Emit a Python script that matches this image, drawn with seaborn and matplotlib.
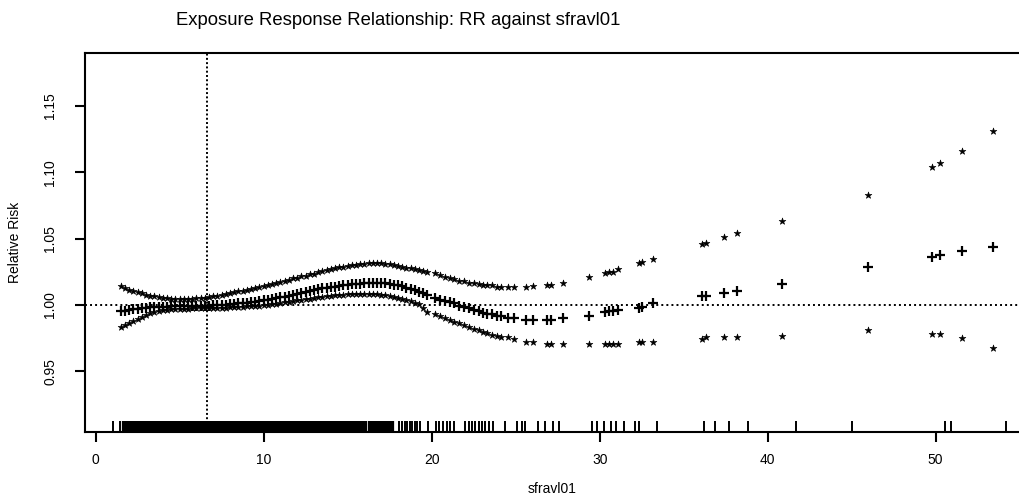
import matplotlib
matplotlib.use("Agg")
import matplotlib.pyplot as plt
import seaborn as sns
import pandas as pd
import numpy as np

# observation grid (exposure values) shared by the three series
sfravl01 = [
    1.50, 1.75, 2.00, 2.25, 2.50, 2.75, 3.00, 3.25, 3.50, 3.75,
    4.00, 4.25, 4.50, 4.75, 5.00, 5.25, 5.50, 5.75, 6.00, 6.25,
    6.50, 6.75, 7.00, 7.25, 7.50, 7.75, 8.00, 8.25, 8.50, 8.75,
    9.00, 9.25, 9.50, 9.75, 10.00, 10.25, 10.50, 10.75, 11.00, 11.25,
    11.50, 11.75, 12.00, 12.25, 12.50, 12.75, 13.00, 13.25, 13.50, 13.75,
    14.00, 14.25, 14.50, 14.75, 15.00, 15.25, 15.50, 15.75, 16.00, 16.25,
    16.50, 16.75, 17.00, 17.25, 17.50, 17.75, 18.00, 18.25, 18.50, 18.75,
    19.00, 19.25,
    19.50, 19.75, 20.20, 20.50, 20.80, 21.10, 21.30, 21.60, 21.90, 22.20,
    22.50, 22.80, 23.05, 23.30, 23.60, 23.90, 24.10, 24.55, 24.90, 25.60,
    26.05, 26.85, 27.10, 27.80, 29.35, 30.30, 30.55, 30.80, 31.10, 32.35,
    32.50, 33.15, 36.10, 36.30, 37.40, 38.15, 40.85, 45.95, 49.80, 50.25,
    51.55, 53.40,
]

rr_upper = [
    1.0140, 1.0124, 1.0111, 1.0102, 1.0094, 1.0087, 1.0078, 1.0070, 1.0064, 1.0058,
    1.0053, 1.0050, 1.0047, 1.0045, 1.0044, 1.0044, 1.0046, 1.0048, 1.0050, 1.0053,
    1.0055, 1.0059, 1.0064, 1.0070, 1.0076, 1.0082, 1.0089, 1.0095, 1.0101, 1.0107,
    1.0114, 1.0121, 1.0128, 1.0135, 1.0143, 1.0150, 1.0158, 1.0166, 1.0175, 1.0183,
    1.0191, 1.0199, 1.0206, 1.0214, 1.0221, 1.0229, 1.0236, 1.0244, 1.0253, 1.0262,
    1.0270, 1.0277, 1.0283, 1.0288, 1.0293, 1.0297, 1.0302, 1.0306, 1.0310, 1.0313,
    1.0315, 1.0315, 1.0314, 1.0310, 1.0305, 1.0299, 1.0293, 1.0287, 1.0281, 1.0275,
    1.0269, 1.0262,
    1.0252, 1.0246, 1.0239, 1.0228, 1.0213, 1.0202, 1.0193, 1.0178, 1.0178, 1.0168,
    1.0163, 1.0155, 1.0148, 1.0146, 1.0146, 1.0137, 1.0131, 1.0131, 1.0131, 1.0131,
    1.0144, 1.0146, 1.0146, 1.0166, 1.0208, 1.0237, 1.0249, 1.0251, 1.0269, 1.0312,
    1.0320, 1.0344, 1.0462, 1.0465, 1.0508, 1.0538, 1.0629, 1.0825, 1.1039, 1.1069,
    1.1157, 1.1308,
]

rr_est = [
    0.9951, 0.9957, 0.9963, 0.9967, 0.9971, 0.9975, 0.9979, 0.9982, 0.9984, 0.9985,
    0.9986, 0.9987, 0.9988, 0.9989, 0.9989, 0.9990, 0.9990, 0.9991, 0.9991, 0.9992,
    0.9993, 0.9994, 0.9996, 0.9998, 1.0000, 1.0002, 1.0005, 1.0008, 1.0011, 1.0014,
    1.0017, 1.0020, 1.0024, 1.0028, 1.0033, 1.0038, 1.0044, 1.0050, 1.0056, 1.0063,
    1.0069, 1.0075, 1.0081, 1.0088, 1.0096, 1.0103, 1.0111, 1.0118, 1.0124, 1.0129,
    1.0134, 1.0138, 1.0142, 1.0147, 1.0151, 1.0154, 1.0157, 1.0160, 1.0162, 1.0164,
    1.0165, 1.0165, 1.0164, 1.0162, 1.0158, 1.0153, 1.0146, 1.0139, 1.0130, 1.0121,
    1.0111, 1.0100,
    1.0088, 1.0075, 1.0052, 1.0040, 1.0030, 1.0018, 1.0012, 0.9994, 0.9982, 0.9975,
    0.9962, 0.9955, 0.9940, 0.9932, 0.9930, 0.9918, 0.9917, 0.9900, 0.9899, 0.9889,
    0.9887, 0.9887, 0.9887, 0.9899, 0.9917, 0.9950, 0.9955, 0.9957, 0.9962, 0.9980,
    0.9987, 1.0012, 1.0068, 1.0070, 1.0086, 1.0101, 1.0161, 1.0282, 1.0357, 1.0373,
    1.0403, 1.0433,
]

rr_lower = [
    0.9832, 0.9849, 0.9866, 0.9882, 0.9897, 0.9912, 0.9925, 0.9937, 0.9949, 0.9955,
    0.9960, 0.9965, 0.9968, 0.9969, 0.9970, 0.9971, 0.9972, 0.9973, 0.9973, 0.9974,
    0.9975, 0.9975, 0.9976, 0.9977, 0.9978, 0.9979, 0.9981, 0.9983, 0.9985, 0.9987,
    0.9989, 0.9991, 0.9993, 0.9995, 0.9997, 1.0000, 1.0004, 1.0008, 1.0013, 1.0018,
    1.0023, 1.0028, 1.0033, 1.0038, 1.0043, 1.0047, 1.0052, 1.0056, 1.0060, 1.0064,
    1.0068, 1.0071, 1.0074, 1.0077, 1.0079, 1.0081, 1.0082, 1.0083, 1.0083, 1.0083,
    1.0083, 1.0081, 1.0078, 1.0073, 1.0067, 1.0059, 1.0051, 1.0043, 1.0035, 1.0026,
    1.0016, 1.0006,
    0.9975, 0.9950, 0.9932, 0.9917, 0.9899, 0.9886, 0.9874, 0.9862, 0.9848, 0.9835,
    0.9818, 0.9808, 0.9799, 0.9786, 0.9774, 0.9763, 0.9756, 0.9756, 0.9743, 0.9723,
    0.9723, 0.9706, 0.9706, 0.9706, 0.9706, 0.9706, 0.9706, 0.9706, 0.9706, 0.9723,
    0.9723, 0.9723, 0.9741, 0.9756, 0.9756, 0.9756, 0.9768, 0.9814, 0.9784, 0.9784,
    0.9754, 0.9676,
]

# rug of observed exposures: dense block and isolated values
rug_block = [
    1.75, 2.00, 2.25, 2.50, 2.75, 3.00, 3.25, 3.50, 3.75, 4.00,
    4.25, 4.50, 4.75, 5.00, 5.25, 5.50, 5.75, 6.00, 6.25, 6.50,
    6.75, 7.00, 7.25, 7.50, 7.75, 8.00, 8.25, 8.50, 8.75, 9.00,
    9.25, 9.50, 9.75, 10.00, 10.25, 10.50, 10.75, 11.00, 11.25, 11.50,
    11.75, 12.00, 12.25, 12.50, 12.75, 13.00, 13.25, 13.50, 13.75, 14.00,
    14.25, 14.50, 14.75, 15.00, 15.25, 15.50, 15.75, 16.00, 16.40, 16.65,
    16.90, 17.15, 17.40, 17.60,
]
rug_single = [
    1.00, 1.45, 18.05, 18.25, 18.40, 18.55, 18.70, 18.85, 19.00, 19.15,
    19.30, 19.76, 20.25, 20.45, 20.70, 20.90, 21.10, 21.30, 22.00, 22.20,
    22.40, 22.60, 22.80, 23.00, 23.20, 23.40, 23.65, 24.35, 25.10, 25.40,
    25.55, 26.30, 26.77, 27.24, 27.60, 29.52, 29.83, 30.23, 30.70, 30.96,
    31.43, 32.13, 32.37, 33.40, 36.20, 36.85, 37.70, 38.80, 41.70, 45.00,
    50.55, 50.90, 54.20,
]

ref_exposure = 6.625
x_ticks = [0, 10, 20, 30, 40, 50]
y_ticks = [0.95, 1.00, 1.05, 1.10, 1.15]

sns.set_style("ticks")
plt.rcParams['font.family'] = ['Liberation Sans', 'DejaVu Sans']
plt.rcParams['text.color'] = 'black'
plt.rcParams['axes.labelcolor'] = 'black'

df = pd.DataFrame({'sfravl01': sfravl01, 'upper': rr_upper,
                   'est': rr_est, 'lower': rr_lower})

fig = plt.figure(figsize=(10.2, 4.97), dpi=100)
ax = fig.add_axes([85 / 1020, 1 - 432 / 497, 1 - 85 / 1020, (432 - 53) / 497])

sns.scatterplot(data=df, x='sfravl01', y='upper', marker='*', s=26,
                color='black', edgecolor='black', linewidth=0.4, ax=ax)
sns.scatterplot(data=df, x='sfravl01', y='lower', marker='*', s=26,
                color='black', edgecolor='black', linewidth=0.4, ax=ax)
sns.scatterplot(data=df, x='sfravl01', y='est', marker='+', s=60,
                color='black', linewidth=1.6, ax=ax)

sns.rugplot(x=rug_block, height=0.028, color='black', linewidth=4.5,
            expand_margins=False, ax=ax)
sns.rugplot(x=rug_single, height=0.028, color='black', linewidth=1.4,
            expand_margins=False, ax=ax)

ax.axhline(1.0, color='black', linestyle=(0, (1, 1.6)), linewidth=1.4)
ax.axvline(ref_exposure, color='black', linestyle=(0, (1, 1.2)), linewidth=1.4)

ax.set_xlim(-0.637, 55.02)
ax.set_ylim(0.9042, 1.1898)
ax.set_xticks(x_ticks)
ax.set_yticks(y_ticks)
ax.set_yticklabels([f"{v:.2f}" for v in y_ticks], rotation=90, va='center')
ax.tick_params(axis='both', direction='out', length=7, width=1.5,
               color='black', labelsize=10, labelcolor='black')
ax.tick_params(axis='x', pad=8)
ax.tick_params(axis='y', pad=13)

for side in ['left', 'bottom', 'top']:
    ax.spines[side].set_visible(True)
    ax.spines[side].set_linewidth(1.5)
    ax.spines[side].set_color('black')
ax.spines['right'].set_visible(False)

ax.set_xlabel('sfravl01', fontsize=10, labelpad=11)
ax.set_ylabel('Relative Risk', fontsize=10, labelpad=15)
fig.text(0.39, 0.958, 'Exposure Response Relationship: RR against sfravl01',
         ha='center', va='center', fontsize=13.3)

fig.savefig('out.png', dpi=100)
plt.close(fig)
